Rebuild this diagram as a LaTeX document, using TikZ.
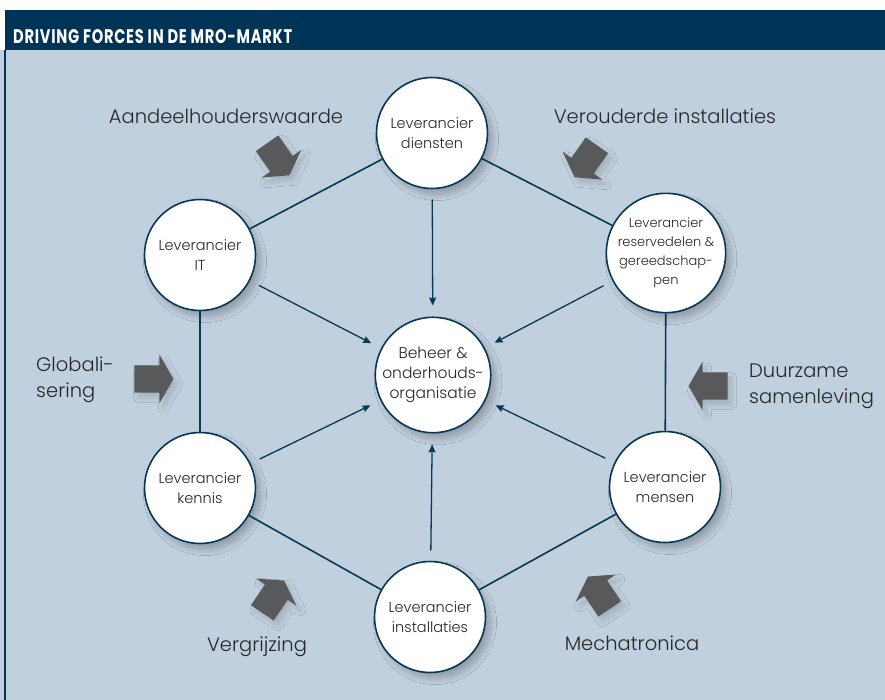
\documentclass[tikz,border=0pt]{standalone}
\usepackage{fontspec}
\setmainfont{Poppins Light}[BoldFont = Poppins Bold]
\usetikzlibrary{shapes.arrows,shadows.blur,arrows.meta}

\definecolor{mro-navy}{RGB}{0,52,86}
\definecolor{mro-panel}{RGB}{193,208,222}
\definecolor{mro-line}{RGB}{8,55,86}
\definecolor{mro-grey}{RGB}{88,89,91}
\definecolor{mro-text}{RGB}{40,40,40}

\begin{document}
\begin{tikzpicture} [
		x = 1pt,
		y = 1pt,
		supplier/.style = {
			circle,
			draw = mro-line,
			line width = 1.6pt,
			fill = white,
			minimum size = 111pt,
			inner sep = 0pt,
			align = center,
			text = mro-text,
			font = \fontsize{14.5}{20}\selectfont,
			blur shadow = {shadow xshift = 5pt, shadow yshift = -6pt, shadow blur radius = 6pt, shadow blur steps = 20, shadow opacity = 25},
		},
		hex-line/.style = {
			draw = mro-line,
			line width = 1.6pt,
		},
		feed-line/.style = {
			draw = mro-line,
			line width = 1.3pt,
			-{Stealth[length = 8pt, width = 7pt, inset = 1pt]},
			shorten >= 11pt,
			shorten <= 10pt,
		},
		force/.style = {
			single arrow,
			fill = mro-grey,
			minimum height = 39pt,
			text height = 13.5pt,
			text depth = 13.5pt,
			text width = 0pt,
			single arrow head extend = 10.5pt,
			single arrow tip angle = 120,
			inner sep = 0pt,
			blur shadow = {shadow xshift = 4pt, shadow yshift = -5pt, shadow blur radius = 5pt, shadow blur steps = 20, shadow opacity = 15},
		},
		force-caption/.style = {
			inner sep = 0pt,
			text = mro-text,
			font = \fontsize{19.5}{26}\selectfont,
		}
	]

	\useasboundingbox (0,0) rectangle (885,-700);

	% panel and title bar
	\fill[mro-panel] (0,-50) rectangle (885,-700);
	\fill[mro-navy] (5,-10) rectangle (885,-50);
	\draw[mro-navy, line width = 2pt] (5,-50) -- (5,-700);
	\node[anchor = base west, inner sep = 0pt, text = white] (title) at (13,-44) {
		\resizebox{279pt}{14pt}{\bfseries\addfontfeatures{LetterSpace = 5}DRIVING FORCES IN DE MRO-MARKT}
	};

	% suppliers round the organisation
	\node[supplier] (diensten) at (432,-133) {Leverancier\\diensten};
	\node[supplier] (it) at (200,-255) {Leverancier\\IT};
	\node[supplier, font = \fontsize{13}{19}\selectfont] (reserve) at (666,-253) {
		Leverancier\\reservedelen \&\\gereedschap-\\pen
	};
	\node[supplier, font = \fontsize{15.5}{20}\selectfont] (core) at (433,-375) {
		Beheer \&\\onderhouds-\\organisatie
	};
	\node[supplier] (kennis) at (200,-488) {Leverancier\\kennis};
	\node[supplier] (mensen) at (665,-487) {Leverancier\\mensen};
	\node[supplier] (installaties) at (430,-617) {Leverancier\\installaties};

	\begin{scope} [every path/.style = hex-line]
		\path (it) -- (diensten);
		\path (diensten) -- (reserve);
		\path (it) -- (kennis);
		\path (reserve) -- (mensen);
		\path (kennis) -- (installaties);
		\path (mensen) -- (installaties);
	\end{scope}

	\begin{scope} [every path/.style = feed-line]
		\path (diensten) -- (core);
		\path (it) -- (core);
		\path (reserve) -- (core);
		\path (kennis) -- (core);
		\path (mensen) -- (core);
		\path (installaties) -- (core);
	\end{scope}

	% driving forces
	\node[force, rotate = -55] (f-aandeel) at (276,-156) {};
	\node[force, rotate = -125] (f-verouderd) at (588,-158) {};
	\node[force] (f-globaal) at (150,-379) {};
	\node[force, rotate = 180] (f-duurzaam) at (712,-386) {};
	\node[force, rotate = 56] (f-vergrijzing) at (271,-600) {};
	\node[force, rotate = 124] (f-mechatronica) at (601,-596) {};

	\node[force-caption, anchor = base] (c-aandeel) at (226,-124) {Aandeelhouderswaarde};
	\node[force-caption, anchor = base] (c-verouderd) at (665,-124) {Verouderde installaties};
	\node[force-caption, anchor = west, align = left] (c-globaal) at (36,-380) {Globali-\\sering};
	\node[force-caption, anchor = west, align = left] (c-duurzaam) at (749,-386) {Duurzame\\samenleving};
	\node[force-caption, anchor = base] (c-vergrijzing) at (257,-651) {Vergrijzing};
	\node[force-caption, anchor = base] (c-mechatronica) at (632,-650) {Mechatronica};
\end{tikzpicture}
\end{document}
